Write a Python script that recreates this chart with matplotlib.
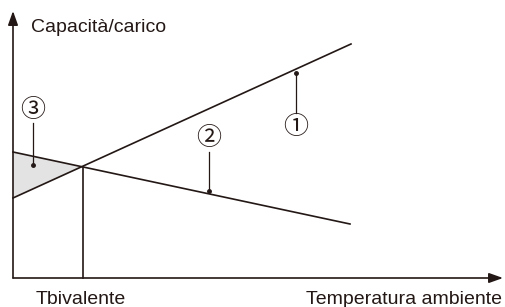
import numpy as np
import matplotlib.pyplot as plt
from matplotlib.patches import Polygon

plt.rcParams['font.family'] = ['Liberation Sans', 'DejaVu Sans']

ink = '#231815'

# schematic values (picture coordinates, y grows downward)
capacity_x = [13, 351]
capacity_y = [198, 44]
load_x = [13, 350]
load_y = [152, 224]
t_biv = 83
biv_y = 167
shade_x = [13, t_biv, 13]
shade_y = [152, biv_y, 198]

# callouts: label, x, label y, leader top, leader bottom (dot)
callouts = [('\u2460', 296, 127, 113, 73),
            ('\u2461', 209, 138, 152, 191),
            ('\u2462', 33, 110, 123, 165)]

origin = (13, 278)

fig = plt.figure(figsize=(5.05, 3.07), dpi=100)
ax = fig.add_axes([0, 0, 1, 1])
ax.set_xlim(0, 505)
ax.set_ylim(307, 0)
ax.axis('off')

ax.add_patch(Polygon(np.column_stack([shade_x, shade_y]), closed=True,
                     facecolor='#e3e3e3', edgecolor='none'))

ax.plot(capacity_x, capacity_y, color=ink, lw=1.2)
ax.plot(load_x, load_y, color=ink, lw=1.2)
ax.plot([t_biv, t_biv], [biv_y, origin[1]], color=ink, lw=1.2)

# axes with arrows
ax.annotate('', xy=(origin[0], 11), xytext=origin,
            arrowprops=dict(arrowstyle='-|>,head_length=0.7,head_width=0.25',
                            color=ink, lw=1.2,
                            mutation_scale=12, shrinkA=0, shrinkB=0))
ax.annotate('', xy=(503, origin[1]), xytext=origin,
            arrowprops=dict(arrowstyle='-|>,head_length=0.7,head_width=0.25',
                            color=ink, lw=1.2,
                            mutation_scale=12, shrinkA=0, shrinkB=0))

for label, x, ty, y0, y1 in callouts:
    ax.text(x, ty, label, fontsize=18, ha='center', va='center', color=ink,
            family=['Noto Sans CJK JP', 'DejaVu Sans'])
    ax.plot([x, x], [y0, y1], color=ink, lw=0.9)
    ax.plot(x, y1, 'o', color=ink, ms=2.5)

ax.text(31, 32, 'Capacità/carico', fontsize=14, color=ink, va='baseline')
ax.text(36, 304, 'Tbivalente', fontsize=14, color=ink, va='baseline')
ax.text(502, 304, 'Temperatura ambiente', fontsize=14, color=ink,
        va='baseline', ha='right')

plt.savefig('out.png', dpi=100)
